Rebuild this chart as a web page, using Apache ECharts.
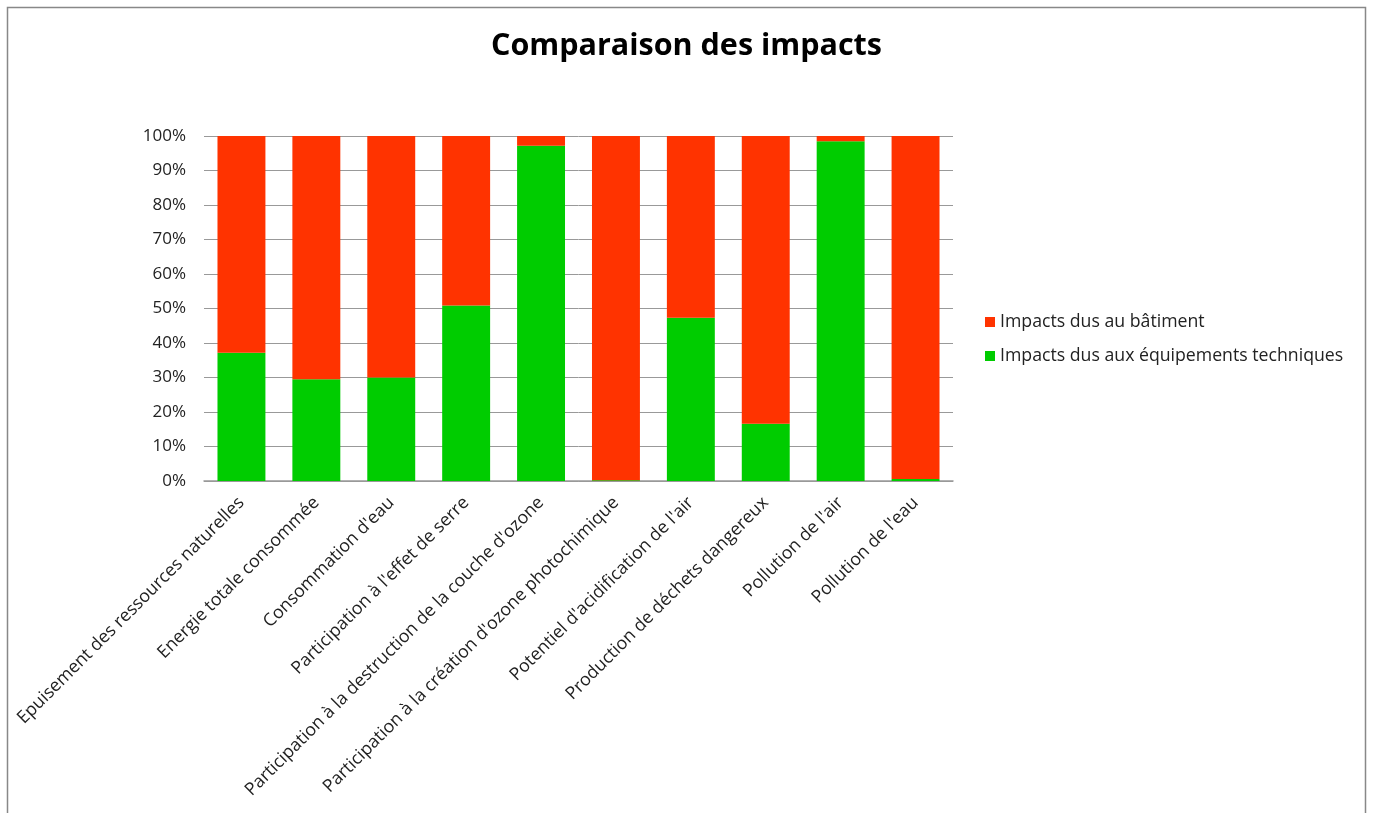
<!DOCTYPE html>
<html>
<head>
<meta charset="utf-8">
<script src="https://cdn.jsdelivr.net/npm/echarts@6/dist/echarts.min.js"></script>
<style>
  html, body { margin: 0; padding: 0; background: #fff; }
  #main1 { width: 1373px; height: 813px; }
</style>
</head>
<body>
<div id="main1"></div>
<script>
var categories = [
  'Epuisement des ressources naturelles',
  'Energie totale consommée',
  "Consommation d'eau",
  "Participation à l'effet de serre",
  "Participation à la destruction de la couche d'ozone",
  "Participation à la création d'ozone photochimique",
  "Potentiel d'acidification de l'air",
  'Production de déchets dangereux',
  "Pollution de l'air",
  "Pollution de l'eau"
];
// percentages
var equipements = [37.2, 29.5, 30.0, 50.9, 97.2, 0.2, 47.3, 16.6, 98.5, 0.6];
var batiment = [62.8, 70.5, 70.0, 49.1, 2.8, 99.8, 52.7, 83.4, 1.5, 99.4];
var seriesNames = ['Impacts dus au bâtiment', 'Impacts dus aux équipements techniques'];

var font = '"Open Sans", sans-serif';
var myChart = echarts.init(document.getElementById('main1'));
var option = {
  animation: false,
  textStyle: { fontFamily: font },
  title: {
    text: 'Comparaison des impacts',
    left: 'center',
    top: 26,
    textStyle: { fontSize: 30.5, fontWeight: 'bold', color: '#000', fontFamily: font }
  },
  graphic: [{
    type: 'rect',
    shape: { x: 7.5, y: 7.5, width: 1358, height: 830 },
    style: { fill: 'none', stroke: '#888', lineWidth: 1.5 },
    silent: true
  }],
  legend: {
    data: seriesNames,
    orient: 'vertical',
    left: 980,
    top: 308,
    itemWidth: 10,
    itemHeight: 10,
    itemGap: 16,
    icon: 'rect',
    textStyle: { fontSize: 17.7, color: '#222', fontFamily: font }
  },
  grid: { left: 204, right: 420, top: 136, bottom: 332, containLabel: false },
  xAxis: {
    type: 'category',
    data: categories,
    axisLine: { lineStyle: { color: '#999', width: 1.5 } },
    axisTick: { show: false },
    axisLabel: { rotate: 45, fontSize: 17.7, color: '#222', margin: 19, interval: 0, fontFamily: font }
  },
  yAxis: {
    type: 'value',
    min: 0,
    max: 100,
    interval: 10,
    axisLine: { show: false },
    axisTick: { show: false },
    splitLine: { lineStyle: { color: '#999', width: 1 } },
    axisLabel: { formatter: '{value}%', fontSize: 17, color: '#222', margin: 18, fontFamily: font }
  },
  series: [
    {
      name: seriesNames[1],
      type: 'bar',
      stack: 'total',
      barCategoryGap: '36%',
      itemStyle: { color: '#00CC00' },
      data: equipements
    },
    {
      name: seriesNames[0],
      type: 'bar',
      stack: 'total',
      barCategoryGap: '36%',
      itemStyle: { color: '#FF3300' },
      data: batiment
    }
  ]
};
myChart.setOption(option);
window.onresize = function () {
  myChart.resize();
};
</script>
</body>
</html>
